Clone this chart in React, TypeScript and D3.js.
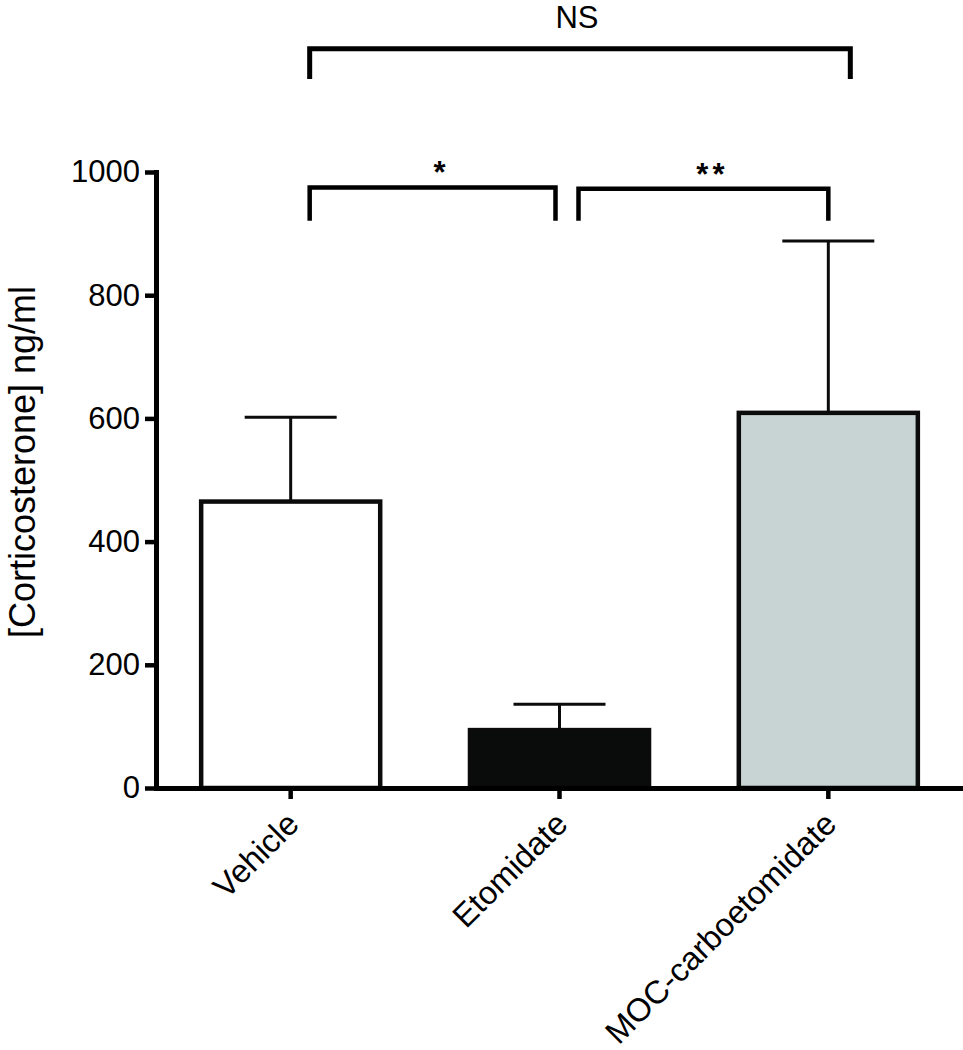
import { useEffect, useRef } from 'react';
import * as d3 from 'd3';

// ── Data ─────────────────────────────────────────────────────────────────────
const GROUPS = ['Vehicle', 'Etomidate', 'MOC-carboetomidate'];
const MEANS = [465, 94, 609];
const ERRORS = [137, 42, 279];
const FILLS = ['#ffffff', '#0a0c0b', '#c8d4d4'];
const Y_TICKS = [0, 200, 400, 600, 800, 1000];
const Y_LABEL = '[Corticosterone] ng/ml';

// significance brackets (heights in y units)
const BRACKETS = [
  { from: 'Vehicle', to: 'MOC-carboetomidate', top: 1200, bottom: 1151, label: 'NS' },
  { from: 'Vehicle', to: 'Etomidate', top: 975, bottom: 921, label: '*' },
  { from: 'Etomidate', to: 'MOC-carboetomidate', top: 973, bottom: 921, label: '**' },
];

const FONT = '"Liberation Sans", Arial, Helvetica, sans-serif';
const W = 963, H = 1050;

export default function App() {
  const svgRef = useRef<SVGSVGElement>(null);

  useEffect(() => {
    if (!svgRef.current) return;
    const svg = d3.select(svgRef.current);
    svg.selectAll('*').remove();

    const x = d3.scaleBand<string>().domain(GROUPS).range([156, 963])
      .paddingInner(0.334).paddingOuter(0.168);
    const y = d3.scaleLinear().domain([0, 1000]).range([788, 172]);
    const cx = (g: string) => (x(g) ?? 0) + x.bandwidth() / 2;

    const rows = GROUPS.map((g, i) => ({ g, v: MEANS[i], e: ERRORS[i], fill: FILLS[i] }));

    // Error bars (upper only)
    const eb = svg.append('g').attr('stroke', '#0b0b0b').attr('stroke-width', 3);
    eb.selectAll('line.v').data(rows).enter().append('line')
      .attr('x1', d => cx(d.g)).attr('x2', d => cx(d.g))
      .attr('y1', d => y(d.v)).attr('y2', d => y(d.v + d.e));
    eb.selectAll('line.c').data(rows).enter().append('line')
      .attr('x1', d => cx(d.g) - 46).attr('x2', d => cx(d.g) + 46)
      .attr('y1', d => y(d.v + d.e)).attr('y2', d => y(d.v + d.e));

    // Bars
    svg.append('g').selectAll('rect').data(rows).enter().append('rect')
      .attr('x', d => x(d.g) ?? 0)
      .attr('width', x.bandwidth())
      .attr('y', d => y(d.v))
      .attr('height', d => y(0) - y(d.v))
      .attr('fill', d => d.fill)
      .attr('stroke', '#0b0b0b').attr('stroke-width', 4.5);

    // Y axis
    svg.append('g').attr('transform', 'translate(156,0)')
      .call(d3.axisLeft(y).tickValues(Y_TICKS).tickFormat(d3.format('d')).tickSize(11).tickSizeOuter(0).tickPadding(5))
      .call(ax => ax.select('.domain').attr('stroke', '#000').attr('stroke-width', 5).attr('stroke-linecap', 'square'))
      .call(ax => ax.selectAll('.tick line').attr('stroke', '#000').attr('stroke-width', 4.5))
      .call(ax => ax.selectAll('.tick text').attr('fill', '#000')
        .style('font-size', '31px').style('font-family', FONT));

    // X axis
    svg.append('g').attr('transform', 'translate(0,788)')
      .call(d3.axisBottom(x).tickSize(11).tickSizeOuter(0).tickFormat(() => ''))
      .call(ax => ax.select('.domain').attr('stroke', '#000').attr('stroke-width', 5))
      .call(ax => ax.selectAll('.tick line').attr('stroke', '#000').attr('stroke-width', 4.5));

    // X labels, rotated
    svg.append('g').selectAll('text').data(GROUPS).enter().append('text')
      .attr('transform', d => `translate(${cx(d) + 10},826) rotate(-45)`)
      .attr('text-anchor', 'end')
      .style('font-size', '32.5px').style('font-family', FONT).attr('fill', '#000')
      .text(d => d);

    // Y label
    svg.append('text')
      .attr('transform', `translate(35,${(y(0) + y(1000)) / 2 - 18}) rotate(-90)`)
      .attr('text-anchor', 'middle')
      .style('font-size', '36px').style('font-family', FONT).attr('fill', '#000')
      .text(Y_LABEL);

    // Brackets
    const bg = svg.append('g');
    BRACKETS.forEach(b => {
      const x0 = cx(b.from) + 19;
      const x1 = b.label === '*' ? cx(b.to) - 4 : cx(b.to) + (b.label === 'NS' ? 22 : 0);
      bg.append('path')
        .attr('d', `M${x0},${y(b.bottom)}V${y(b.top)}H${x1}V${y(b.bottom)}`)
        .attr('fill', 'none').attr('stroke', '#000')
        .attr('stroke-width', b.label === 'NS' ? 5 : 4.5);
      const isNS = b.label === 'NS';
      bg.append('text')
        .attr('x', (x0 + x1) / 2 + (isNS ? -3 : 9))
        .attr('y', y(b.top) - (isNS ? 21 : 4))
        .attr('text-anchor', 'middle')
        .style('font-size', '31px').style('font-family', FONT)
        .style('font-weight', isNS ? 'normal' : 'bold')
        .style('letter-spacing', isNS ? '0px' : '4px')
        .attr('fill', '#000')
        .text(b.label);
    });
  }, []);

  return (
    <div style={{ position: 'absolute', left: 0, top: 0, width: W, height: H, background: '#fff' }}>
      <svg ref={svgRef} width={W} height={H} viewBox={`0 0 ${W} ${H}`} style={{ display: 'block' }} />
    </div>
  );
}
